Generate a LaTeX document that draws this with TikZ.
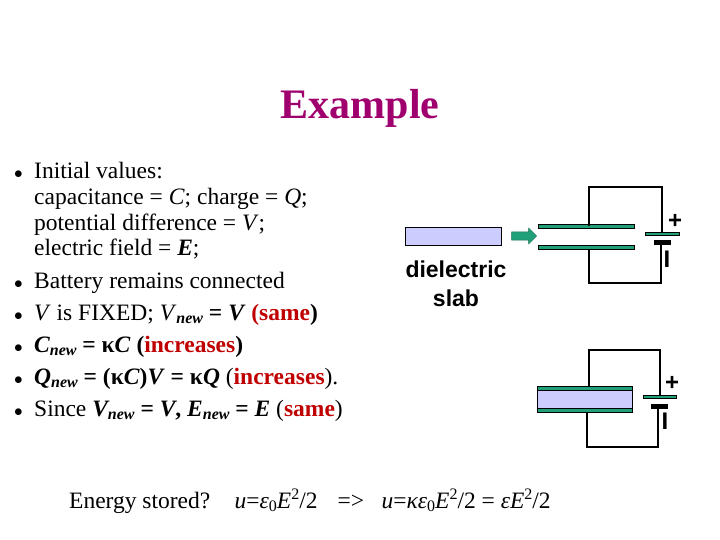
\documentclass[tikz,border=0pt]{standalone}
\usepackage{fontspec}
\setmainfont{Liberation Serif}
\newfontfamily\arialf{Liberation Sans}
\usetikzlibrary{shapes.arrows}
\definecolor{teal1}{RGB}{32,160,120}
\definecolor{slab}{RGB}{204,204,255}
\definecolor{titlec}{RGB}{160,0,110}
\definecolor{redt}{RGB}{192,0,0}
\newcommand{\sbx}[1]{\raisebox{-0.35ex}{\fontsize{16}{16}\selectfont #1}}
\newcommand{\spx}[1]{\raisebox{0.8ex}{\fontsize{16}{16}\selectfont #1}}
\begin{document}
\begin{tikzpicture}[x=1pt,y=-1pt,
  body/.style={anchor=base west,inner sep=0pt,font=\fontsize{23.5}{26}\selectfont},
  bul/.style={anchor=base west,inner sep=0pt,font=\fontsize{18}{24}\selectfont},
  wire/.style={line width=1.3pt,black},
  plate/.style={draw=black,fill=teal1,line width=0.6pt},
  sans/.style={font=\arialf\bfseries\fontsize{23}{29}\selectfont,align=center},
  sign/.style={font=\arialf\bfseries\fontsize{24}{24}\selectfont,inner sep=0pt}]
\useasboundingbox (0,0) rectangle (720,540);
% title
\node[font=\bfseries\fontsize{42}{42}\selectfont,text=titlec] (title) at (360,108) {Example};
% bullets
\foreach \y/\n in {179/b1,288/b2,320/b3,352/b4,384/b5,416/b6}
  \node[bul] (\n) at (14,\y) {$\bullet$};
\node[body] (l1) at (34,179) {Initial values:};
\node[body] (l2) at (34,205) {capacitance = \textit{C}; charge = \textit{Q};};
\node[body] (l3) at (34,230) {potential difference = \textit{V};};
\node[body] (l4) at (34,255) {electric field = \textbf{\textit{E}};};
\node[body] (l5) at (34,288) {Battery remains connected};
\node[body] (l6) at (34,320) {\textit{V} is FIXED; \textit{V}\textbf{\textit{\sbx{new}}} \textbf{= \textit{V}} \textcolor{redt}{\textbf{(same}}\textbf{)}};
\node[body] (l7) at (34,352) {\textbf{\textit{C\sbx{new}} = κ\textit{C} (}\textcolor{redt}{\textbf{increases}}\textbf{)}};
\node[body] (l8) at (34,384) {\textbf{\textit{Q\sbx{new}} = (κ\textit{C})\textit{V} = κ\textit{Q}} (\textcolor{redt}{\textbf{increases}}).};
\node[body] (l9) at (34,416) {Since \textit{\textbf{V\sbx{new}}} \textbf{= \textit{V}, \textit{E\sbx{new}} = \textit{E}} (\textcolor{redt}{\textbf{same}})};
% energy
\node[body] (en) at (69,508) {Energy stored?\hspace{0.7em} \textit{u}=\textit{ε}\sbx{0}\textit{E}\spx{2}/2\hspace{0.6em} =>\hspace{0.5em} \textit{u}=\textit{κε}\sbx{0}\textit{E}\spx{2}/2 = \textit{εE}\spx{2}/2};
% slab and arrow
\draw[fill=slab,line width=0.8pt] (405,227) rectangle (501,245);
\node[sans] (dl) at (456,284) {dielectric\\slab};
\node[single arrow,fill=teal1,draw=teal1!70!black,minimum height=25pt,minimum width=16pt,single arrow head extend=2pt,single arrow head indent=0pt,inner sep=2pt] (arr) at (522,236) {};
% upper circuit
\coordinate (ut) at (589,187); \coordinate (urt) at (662,187);
\coordinate (ub) at (589,283); \coordinate (urb) at (661,283);
\draw[plate] (538,224) rectangle (634,228);
\draw[plate] (538,245) rectangle (634,249);
\draw[wire] (589,226) -- (ut) -- (urt) -- (662,232);
\draw[wire] (589,249) -- (ub) -- (urb) -- (661,243);
\draw[plate] (645,232) rectangle (679,235);
\draw[fill=black] (654,240) rectangle (670,244);
\node[sign] (p1) at (675,221) {+};
\node[sign] (m1) at (667,259) {I};
% lower circuit
\coordinate (lt) at (589,350); \coordinate (lrt) at (660,350);
\coordinate (lb) at (587,447); \coordinate (lrb) at (658,447);
\draw[fill=slab,line width=0.8pt] (537,386) rectangle (632,412);
\draw[plate] (537,386) rectangle (632,390);
\draw[plate] (537,408) rectangle (632,412);
\draw[wire] (589,386) -- (lt) -- (lrt) -- (660,395);
\draw[wire] (587,412) -- (lb) -- (lrb) -- (658,406);
\draw[plate] (643,395) rectangle (676,398);
\draw[fill=black] (651,404) rectangle (667,408);
\node[sign] (p2) at (672,383) {+};
\node[sign] (m2) at (665,421) {I};
\end{tikzpicture}
\end{document}
